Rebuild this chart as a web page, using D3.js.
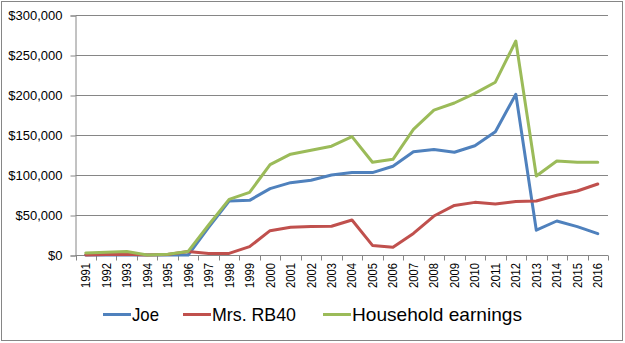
<!DOCTYPE html>
<html>
<head>
<meta charset="utf-8">
<script src="https://cdn.jsdelivr.net/npm/d3@7"></script>
<style>
  html, body { margin: 0; padding: 0; background: #fff; }
  svg { display: block; }
  text { font-family: "Liberation Sans", Arial, sans-serif; fill: #000; }
</style>
</head>
<body>
<svg id="chart" width="625" height="343"></svg>
<script>
const years = ["1991","1992","1993","1994","1995","1996","1997","1998","1999","2000","2001","2002","2003","2004","2005","2006","2007","2008","2009","2010","2011","2012","2013","2014","2015","2016"];
const joe = [0,0,0,0,0,0,34500,67500,68300,83000,90400,93500,100000,103000,103000,111000,129000,132000,128500,136500,154000,201000,31000,42500,35500,26700];
const mrs = [0,500,1000,0,500,4500,2000,2000,10400,30400,34600,35500,36000,43700,12000,9600,27000,48700,62000,65800,63700,67000,67500,74600,80000,88700];
const household = [2500,3500,4500,0,1000,4500,37500,69600,78300,113000,126000,131000,136000,148000,116000,119600,157000,181000,190000,202000,216000,267500,98700,117500,116000,116000];
const yTicks = [0,50000,100000,150000,200000,250000,300000];
const seriesNames = ["Joe","Mrs. RB40","Household earnings"];
const colors = ["#4F81BD","#C0504D","#9BBB59"];

const svg = d3.select("#chart");
// outer border
svg.append("rect").attr("x",1.5).attr("y",1.5).attr("width",621).attr("height",339)
  .attr("fill","#fff").attr("stroke","#868686").attr("stroke-width",1);

const x = d3.scaleBand().domain(years).range([75.5, 608]).paddingInner(0).paddingOuter(0);
const y = d3.scaleLinear().domain([0,300000]).range([255, 15]);

// gridlines
svg.append("g").selectAll("line").data(yTicks).join("line")
  .attr("x1",75.5).attr("x2",608)
  .attr("y1",d=>Math.round(y(d))+0.5).attr("y2",d=>Math.round(y(d))+0.5)
  .attr("stroke","#868686").attr("stroke-width",1);

// y axis
const yAxis = d3.axisLeft(y).tickValues(yTicks).tickSize(5).tickPadding(8)
  .tickFormat(d => "$" + d3.format(",")(d));
const gy = svg.append("g").attr("transform","translate(75.5,0.5)").call(yAxis);
gy.select(".domain").attr("stroke","#868686");
gy.selectAll(".tick line").attr("stroke","#868686");
gy.selectAll("text").style("font-size","13px").attr("fill","#000");

// x axis line and ticks at category boundaries
const gx = svg.append("g");
gx.append("line").attr("x1",75.5).attr("x2",608).attr("y1",255.5).attr("y2",255.5).attr("stroke","#868686");
const bounds = years.map(d => x(d)).concat([x(years[years.length-1]) + x.bandwidth()]);
gx.selectAll("line.tk").data(bounds).join("line").attr("class","tk")
  .attr("x1",d=>Math.round(d)+0.5).attr("x2",d=>Math.round(d)+0.5)
  .attr("y1",255.5).attr("y2",260.5).attr("stroke","#868686");
gx.selectAll("text").data(years).join("text")
  .attr("transform", d => `translate(${x(d)+x.bandwidth()/2+4.5},263) rotate(-90)`)
  .attr("text-anchor","end")
  .style("font-size","12px")
  .attr("textLength",25).attr("lengthAdjust","spacingAndGlyphs")
  .text(d=>d);

// lines
const data = [joe, mrs, household];
const line = d3.line().x((d,i)=>x(years[i])+x.bandwidth()/2).y(d=>y(d));
svg.append("g").selectAll("path").data(data).join("path")
  .attr("d", d=>line(d)).attr("fill","none")
  .attr("stroke",(d,i)=>colors[i]).attr("stroke-width",3)
  .attr("stroke-linejoin","round").attr("stroke-linecap","round");

// legend
const legX = [103, 183, 323];
const legW = [27, 84, 170];
const lg = svg.append("g");
seriesNames.forEach((n,i)=>{
  lg.append("line").attr("x1",legX[i]).attr("x2",legX[i]+28).attr("y1",314.5).attr("y2",314.5)
    .attr("stroke",colors[i]).attr("stroke-width",3);
  lg.append("text").attr("x",legX[i]+29).attr("y",321)
    .style("font-size","19px")
    .attr("textLength",legW[i]).attr("lengthAdjust","spacingAndGlyphs")
    .text(n);
});
</script>
</body>
</html>
